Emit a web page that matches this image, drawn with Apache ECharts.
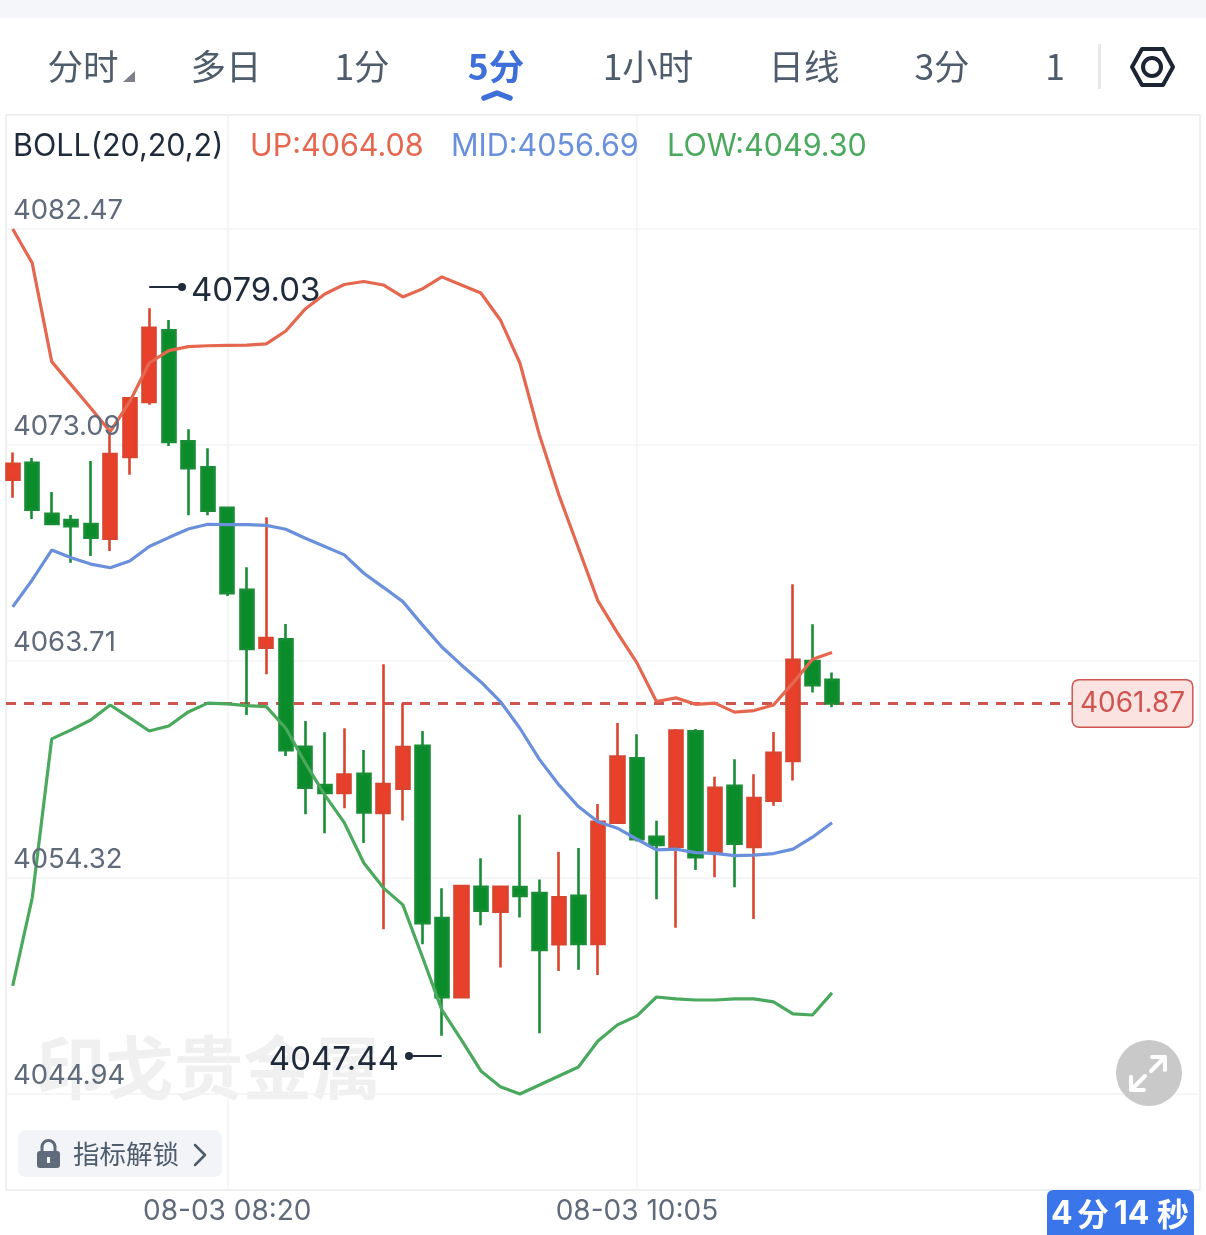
<!DOCTYPE html>
<html>
<head>
<meta charset="utf-8">
<style>html,body{margin:0;padding:0;background:#fff}#c{width:1206px;height:1235px}</style>
<script src="https://cdn.jsdelivr.net/npm/echarts@6/dist/echarts.min.js"></script>
</head>
<body>
<div id="c"></div>
<script>
const times = ['08-03 07:25','08-03 07:30','08-03 07:35','08-03 07:40','08-03 07:45','08-03 07:50','08-03 07:55','08-03 08:00','08-03 08:05','08-03 08:10','08-03 08:15','08-03 08:20','08-03 08:25','08-03 08:30','08-03 08:35','08-03 08:40','08-03 08:45','08-03 08:50','08-03 08:55','08-03 09:00','08-03 09:05','08-03 09:10','08-03 09:15','08-03 09:20','08-03 09:25','08-03 09:30','08-03 09:35','08-03 09:40','08-03 09:45','08-03 09:50','08-03 09:55','08-03 10:00','08-03 10:05','08-03 10:10','08-03 10:15','08-03 10:20','08-03 10:25','08-03 10:30','08-03 10:35','08-03 10:40','08-03 10:45','08-03 10:50','08-03 10:55'];
// open, close, low, high
const ohlc = [
[4071.58,4072.27,4070.80,4072.76],[4072.32,4070.28,4069.88,4072.53],[4070.10,4069.66,4069.66,4071.05],[4069.83,4069.56,4067.98,4070.05],
[4069.66,4069.07,4068.27,4072.40],[4069.02,4072.70,4068.49,4073.74],[4072.57,4075.12,4071.80,4075.12],[4074.96,4078.18,4074.84,4079.03],
[4078.07,4073.22,4073.05,4078.52],[4073.25,4072.08,4070.04,4073.77],[4072.12,4070.24,4070.04,4072.95],[4070.36,4066.65,4066.53,4070.36],
[4066.80,4064.23,4061.37,4067.78],[4064.29,4064.71,4063.14,4069.95],[4064.65,4059.84,4059.59,4065.32],[4059.99,4058.21,4057.06,4061.11],
[4058.32,4057.98,4056.23,4060.62],[4057.98,4058.78,4057.32,4060.79],[4058.81,4057.13,4055.81,4059.85],[4057.11,4058.37,4052.06,4063.57],
[4058.17,4059.97,4056.78,4061.88],[4060.03,4052.32,4051.41,4060.67],[4052.55,4049.11,4047.44,4053.84],[4049.11,4053.94,4049.11,4053.97],
[4053.91,4052.87,4052.24,4055.15],[4052.83,4053.91,4050.40,4053.94],[4053.89,4053.51,4052.57,4057.04],[4053.63,4051.16,4047.55,4054.22],
[4051.41,4053.45,4050.25,4055.43],[4053.51,4051.42,4050.30,4055.59],[4051.42,4056.73,4050.08,4057.50],[4056.69,4059.56,4056.69,4061.02],
[4059.49,4055.97,4055.87,4060.53],[4056.08,4055.72,4053.37,4056.77],[4055.65,4060.69,4052.13,4060.76],[4060.66,4055.19,4054.64,4060.76],
[4055.41,4058.20,4054.32,4058.69],[4058.29,4055.78,4053.89,4059.44],[4055.64,4057.76,4052.51,4058.79],[4057.65,4059.72,4057.43,4060.63],
[4059.37,4063.76,4058.52,4067.04],[4063.71,4062.66,4062.34,4065.31],[4062.89,4061.87,4061.70,4063.21]
];
const bollUp = [4082.47,4080.99,4076.71,4075.70,4074.70,4073.67,4074.97,4076.65,4077.19,4077.36,4077.40,4077.42,4077.43,4077.48,4078.04,4079.00,4079.65,4080.06,4080.19,4080.04,4079.52,4079.87,4080.39,4080.04,4079.69,4078.52,4076.65,4073.53,4070.92,4068.62,4066.32,4064.93,4063.63,4061.95,4062.11,4061.83,4061.88,4061.49,4061.56,4061.80,4062.76,4063.79,4064.08];
const bollMid = [4066.06,4067.23,4068.53,4068.19,4067.92,4067.76,4068.05,4068.68,4069.07,4069.44,4069.65,4069.63,4069.63,4069.60,4069.43,4069.04,4068.68,4068.32,4067.52,4066.91,4066.29,4065.28,4064.32,4063.54,4062.80,4061.95,4060.79,4059.44,4058.33,4057.39,4056.73,4056.45,4055.97,4055.51,4055.54,4055.39,4055.36,4055.26,4055.28,4055.35,4055.54,4056.06,4056.69];
const bollLow = [4049.60,4053.42,4060.33,4060.72,4061.15,4061.80,4061.24,4060.67,4060.89,4061.50,4061.88,4061.85,4061.77,4061.73,4060.79,4059.28,4057.89,4056.69,4054.94,4053.86,4053.12,4050.87,4048.56,4047.26,4045.91,4045.22,4044.91,4045.30,4045.69,4046.08,4047.21,4047.91,4048.30,4049.12,4049.04,4048.99,4048.99,4049.04,4049.04,4048.91,4048.39,4048.34,4049.30];
const yTicks = [4082.47,4073.09,4063.71,4054.32,4044.94];
const xTickIndex = [11,32];
const lastPrice = 4061.87;
const maxMark = 4079.03, minMark = 4047.44;
const legend = {name:'BOLL(20,20,2)', up:'UP:4064.08', mid:'MID:4056.69', low:'LOW:4049.30'};
const tabs = ['分时','多日','1分','5分','1小时','日线','3分','1'];

const UI = '"Inter","Noto Sans CJK SC",sans-serif';
const CJK = '"Noto Sans CJK SC",sans-serif';
const ink = '#1f2a3a', grey = '#4f5c6c', cUp='#e5674f', cMid='#6a90dc', cLow='#4aa95d', cPrice='#cf5450';

function txt(text,x,y,size,fill,align,weight,family,z){
  return {type:'text',silent:true,z:z==null?20:z,style:{text:text,x:x,y:y,fill:fill,align:align||'left',verticalAlign:'middle',textAlign:align||'left',textVerticalAlign:'middle',font:(weight||'normal')+' '+size+'px '+(family||UI)}};
}
function stroke(points,color,w,z){
  return {type:'polyline',silent:true,z:z==null?20:z,shape:{points:points},style:{stroke:color,lineWidth:w,fill:null,lineCap:'round',lineJoin:'round'}};
}
const tabX = [83,226,362,496,648,804,942,1055];
const graphics = [
  {type:'rect',silent:true,z:1,shape:{x:0,y:0,width:1206,height:18},style:{fill:'#f4f6fa'}},
  {type:'rect',silent:true,z:1,shape:{x:1098,y:44,width:3,height:45},style:{fill:'#e6e8eb'}},
  {type:'polygon',silent:true,z:1,shape:{points:[[123,82],[135,82],[135,71]]},style:{fill:'#7c808a'}},
  stroke([[484,98],[497,93],[510,98]],'#3f6fd8',5.5),
  {type:'polygon',silent:true,z:1,shape:{points:[[1132,67],[1142,49],[1163,49],[1173,67],[1163,85],[1142,85]]},style:{fill:null,stroke:'#1c2533',lineWidth:4,lineJoin:'round'}},
  {type:'circle',silent:true,z:1,shape:{cx:1152,cy:67,r:9},style:{fill:null,stroke:'#1c2533',lineWidth:4}},
  // watermark
  txt('印戈贵金属',36,1068,69,'#f0f0f1','left','bold',CJK,0),
  // legend
  txt(legend.name,13,147,30.5,ink),
  txt(legend.up,250,147,30.5,cUp),
  txt(legend.mid,451,147,30.5,cMid),
  txt(legend.low,667,147,30.5,cLow),
  // extreme annotations
  stroke([[150,287],[182,287]],ink,2),
  {type:'circle',silent:true,z:20,shape:{cx:182,cy:287,r:4},style:{fill:ink}},
  txt(maxMark.toFixed(2),191,291,33,ink),
  stroke([[408,1056],[441,1056]],ink,2),
  {type:'circle',silent:true,z:20,shape:{cx:409,cy:1056,r:4},style:{fill:ink}},
  txt(minMark.toFixed(2),399,1060,33,ink,'right'),
  // unlock button
  {type:'rect',silent:true,z:1,shape:{x:18,y:1130,width:204,height:47,r:8},style:{fill:'#f2f4f7'}},
  {type:'rect',silent:true,z:2,shape:{x:37,y:1151,width:23,height:17,r:3},style:{fill:'#5f6b7a'}},
  {type:'arc',silent:true,z:2,shape:{cx:48.5,cy:1147,r:6.5,startAngle:Math.PI,endAngle:0,clockwise:true},style:{fill:null,stroke:'#5f6b7a',lineWidth:3}},
  stroke([[42,1147],[42,1152]],'#5f6b7a',3,2),
  stroke([[55,1147],[55,1152]],'#5f6b7a',3,2),
  {type:'rect',silent:true,z:3,shape:{x:47,y:1157,width:3,height:6},style:{fill:'#ffffff'}},
  txt('指标解锁',73,1154,26.5,grey,'left','normal',CJK),
  stroke([[195,1145],[205,1155],[195,1165]],grey,2.5),
  // expand button
  {type:'circle',silent:true,z:15,shape:{cx:1149,cy:1073,r:33},style:{fill:'#c9c9c9'}},
  stroke([[1152,1057],[1165,1057],[1165,1070]],'#fff',4),
  stroke([[1163,1059],[1151,1071]],'#fff',4),
  stroke([[1131,1077],[1131,1090],[1144,1090]],'#fff',4),
  stroke([[1133,1088],[1145,1076]],'#fff',4),
  // countdown
  {type:'rect',silent:true,z:15,shape:{x:1047,y:1190,width:147,height:45,r:[6,6,0,0]},style:{fill:'#3a76ea'}},
  txt('4',1051,1214,32,'#fff','left','bold',UI),
  txt('分',1077,1214,32,'#fff','left','bold',CJK),
  txt('14',1114,1214,32,'#fff','left','bold',UI),
  txt('秒',1157,1214,32,'#fff','left','bold',CJK)
];
tabs.forEach(function(t,i){
  const active = t==='5分';
  graphics.push(txt(t,tabX[i],66.5,35.5,active?'#3f6fd8':grey,'center',active?'bold':'normal',CJK));
});

const series = [
  {type:'candlestick',name:'K',z:3,barWidth:13.8,
   data:ohlc.map(function(r,i){return [i,r[0],r[1],r[2],r[3]];}),
   encode:{x:0,y:[1,2,3,4]},
   itemStyle:{color:'#e8402a',color0:'#0a8c2b',borderColor:'#d9452f',borderColor0:'#188d35',borderWidth:2.6},
   markLine:{silent:true,symbol:'none',z:2,precision:2,animation:false,
     lineStyle:{color:cPrice,type:[10,8],width:3},
     data:[[{xAxis:-0.3435,yAxis:lastPrice},{xAxis:54.3,yAxis:lastPrice,
       label:{show:true,position:'end',distance:1,formatter:lastPrice.toFixed(2),color:cPrice,
         fontFamily:'Inter',fontSize:28,backgroundColor:'#fbe3e1',borderColor:cPrice,borderWidth:1.5,borderRadius:6,padding:[10,7,8,7]}}]]
   }},
  {type:'line',name:'UP',z:4,data:bollUp.map(function(v,i){return [i,v];}),showSymbol:false,lineStyle:{color:cUp,width:3.2}},
  {type:'line',name:'MID',z:4,data:bollMid.map(function(v,i){return [i,v];}),showSymbol:false,lineStyle:{color:cMid,width:3.2}},
  {type:'line',name:'LOW',z:4,data:bollLow.map(function(v,i){return [i,v];}),showSymbol:false,lineStyle:{color:cLow,width:3.2}}
];

const chart = echarts.init(document.getElementById('c'),null,{renderer:'canvas'});
chart.setOption({
  animation:false,
  backgroundColor:'#ffffff',
  grid:{show:true,left:6,right:6,top:115,height:1075,outerBoundsMode:'none',borderColor:'#e9eaed',borderWidth:1.5,backgroundColor:'transparent'},
  xAxis:{type:'value',min:-0.3435,max:60.864,z:0,
    axisLine:{show:false},axisTick:{show:false,customValues:xTickIndex},
    axisLabel:{customValues:xTickIndex,margin:8,color:'#5f6b7a',fontFamily:'Inter',fontSize:28,
      formatter:function(v){return times[v]||'';},hideOverlap:false,showMinLabel:true,showMaxLabel:true},
    splitLine:{show:true,lineStyle:{color:'#f2f3f5',width:1.5}}},
  yAxis:[
    {type:'value',min:4040.74,max:4087.42,position:'left',z:0,
     axisLine:{show:false},axisTick:{show:false,customValues:yTicks},
     axisLabel:{show:false,inside:true,customValues:yTicks},
     splitLine:{show:true,lineStyle:{color:'#f2f3f5',width:1.5}}},
    {type:'value',min:4040.74,max:4087.42,position:'left',offset:0,z:6,
     axisLine:{show:false},axisTick:{show:false,customValues:yTicks},
     axisLabel:{inside:true,customValues:yTicks,margin:7,color:'#5f6b7a',fontFamily:'Inter',fontSize:27.5,
       verticalAlign:'bottom',lineHeight:36,
       formatter:function(v){return v.toFixed(2);}},
     splitLine:{show:false}}
  ],
  series:series,
  graphic:graphics
});
</script>
</body>
</html>
